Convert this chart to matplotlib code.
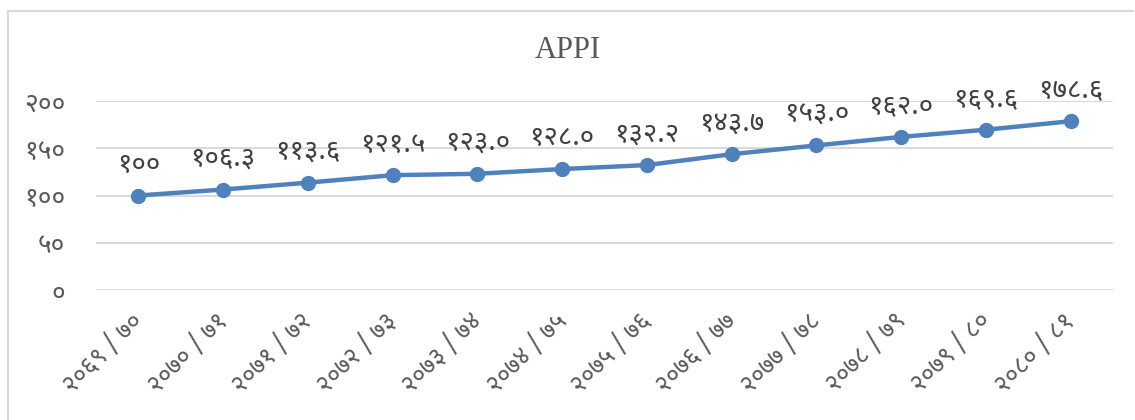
import matplotlib
matplotlib.use("Agg")
import matplotlib.pyplot as plt
import matplotlib.transforms as mtransforms
import numpy as np
from matplotlib.lines import Line2D

# data
years = ["२०६९ / ७०", "२०७० / ७१", "२०७१ / ७२", "२०७२ / ७३", "२०७३ / ७४", "२०७४ / ७५",
         "२०७५ / ७६", "२०७६ / ७७", "२०७७ / ७८", "२०७८ / ७९", "२०७९ / ८०", "२०८० / ८१"]
appi = [100, 106.3, 113.6, 121.5, 123.0, 128.0, 132.2, 143.7, 153.0, 162.0, 169.6, 178.6]
value_labels = ["१००", "१०६.३", "११३.६", "१२१.५", "१२३.०", "१२८.०",
                "१३२.२", "१४३.७", "१५३.०", "१६२.०", "१६९.६", "१७८.६"]
yticks = [0, 50, 100, 150, 200]
ytick_labels = ["०", "५०", "१००", "१५०", "२००"]

deva = ["Noto Sans Devanagari", "DejaVu Sans"]
grey = "#595959"

fig = plt.figure(figsize=(11.35, 4.2), dpi=100)
ax = fig.add_axes([96 / 1135, 130 / 420, 1017 / 1135, 189 / 420])

x = np.arange(len(years))
ax.plot(x, appi, color="#4F81BD", lw=3.2, marker="o", ms=10, zorder=3, clip_on=False)

# data labels above each point
for xi, v, lab in zip(x, appi, value_labels):
    ax.annotate(lab, xy=(xi, v), xytext=(0, 12), textcoords="offset points",
                ha="center", va="bottom", fontsize=20, color="#404040",
                family=deva, fontweight="light")

ax.set_xlim(-0.5, len(years) - 0.5)
ax.set_ylim(0, 200)
ax.set_yticks(yticks)
ax.set_yticklabels(ytick_labels, family=deva, fontsize=19, color=grey, fontweight="light")
ax.set_xticks(x)
ax.set_xticklabels(years, family=deva, fontsize=18, color=grey, fontweight="light",
                   rotation=45, ha="right", rotation_mode="anchor")
ax.tick_params(axis="y", length=0, pad=22)
ax.tick_params(axis="x", length=0, pad=13)
# nudge the slanted labels a bit to the left
shift = mtransforms.ScaledTranslation(-8 / 100, 0, fig.dpi_scale_trans)
for lbl in ax.get_xticklabels():
    lbl.set_transform(lbl.get_transform() + shift)
ax.grid(axis="y", color="#D9D9D9", lw=1.4)
ax.set_axisbelow(True)
for s in ax.spines.values():
    s.set_visible(False)

fig.text(0.5, 1 - 50 / 420, "APPI", ha="center", va="center",
         fontsize=22, color=grey, family="Liberation Serif")

# chart frame (only top and left edges fit the picture)
fig.add_artist(Line2D([8 / 1135, 8 / 1135], [0, 1 - 11 / 420], color="#D9D9D9", lw=1.5))
fig.add_artist(Line2D([8 / 1135, 1133 / 1135], [1 - 11 / 420, 1 - 11 / 420], color="#D9D9D9", lw=1.5))

fig.savefig("out.png")
